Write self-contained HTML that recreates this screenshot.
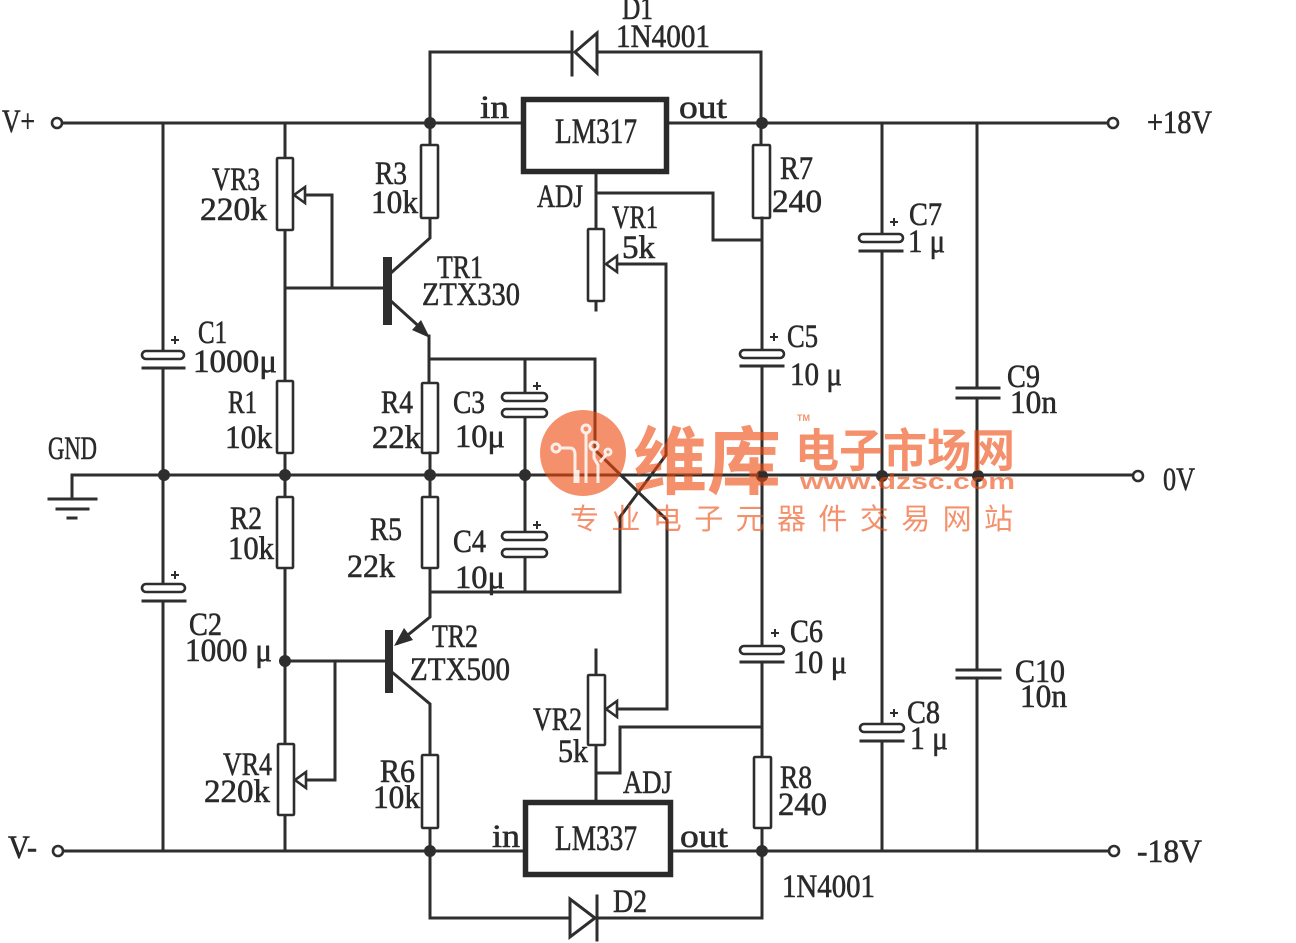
<!DOCTYPE html>
<html><head><meta charset="utf-8"><style>
html,body{margin:0;padding:0;background:#fff;}
svg{display:block;}
text{font-family:"Liberation Serif",serif;font-size:33px;fill:#2a2a2a;stroke:#2a2a2a;stroke-width:0.6px;}
.w{fill:none;stroke:#2e2e2e;stroke-width:3;stroke-linecap:square;stroke-linejoin:miter;}
.r{fill:#fff;stroke:#2e2e2e;stroke-width:2.6;}
.d{fill:#2e2e2e;}
.big{font-size:36px;}
</style></head><body>
<svg width="1296" height="943" viewBox="0 0 1296 943" xmlns="http://www.w3.org/2000/svg">
<rect width="1296" height="943" fill="#fff"/>

<!-- rails -->
<path class="w" d="M62 123H521 M669 123H1109"/>
<path class="w" d="M72 475H1133"/>
<path class="w" d="M62 851H523 M673 851H1109"/>
<circle cx="57" cy="123" r="5" fill="#fff" stroke="#2e2e2e" stroke-width="2.6"/>
<circle cx="1113" cy="123" r="5" fill="#fff" stroke="#2e2e2e" stroke-width="2.6"/>
<circle cx="1138" cy="476" r="5" fill="#fff" stroke="#2e2e2e" stroke-width="2.6"/>
<circle cx="58" cy="851" r="5" fill="#fff" stroke="#2e2e2e" stroke-width="2.6"/>
<circle cx="1114" cy="851" r="5" fill="#fff" stroke="#2e2e2e" stroke-width="2.6"/>

<!-- GND symbol -->
<path class="w" d="M72 475V498 M49 499H96 M57 509H88 M68 518H76"/>

<!-- x=163 C1/C2 column -->
<path class="w" d="M163 123V351 M163 368V584 M163 601V851"/>
<rect class="r" x="142" y="351" width="42" height="8" rx="4"/>
<path class="w" d="M143 368H184"/>
<rect class="r" x="142" y="584" width="43" height="8" rx="4"/>
<path class="w" d="M143 601H185"/>
<path class="w" style="stroke-width:2" d="M172 340H178 M175 337V343 M172 575H178 M175 572V578"/>

<!-- x=285 column -->
<path class="w" d="M285 123V158 M285 230V381 M285 453V497 M285 568V744 M285 815V851"/>
<rect class="r" x="277" y="158" width="16" height="72" rx="1"/>
<rect class="r" x="277" y="381" width="16" height="72" rx="1"/>
<rect class="r" x="277" y="497" width="16" height="71" rx="1"/>
<rect class="r" x="278" y="744" width="16" height="71" rx="1"/>
<!-- VR3 wiper -->
<path class="w" d="M304 195H332V288 M285 288H384"/>
<polygon points="294,195 305,187 305,203" fill="#fff" stroke="#2e2e2e" stroke-width="2.6"/>
<!-- VR4 wiper -->
<path class="w" d="M285 661H386 M335 661V780H305"/>
<polygon points="295,780 306,772 306,788" fill="#fff" stroke="#2e2e2e" stroke-width="2.6"/>

<!-- x=430 column -->
<path class="w" d="M430 52V145 M430 218V238 L392 272"/>
<rect class="r" x="421" y="145" width="17" height="73" rx="1"/>
<rect x="383" y="257" width="9" height="68" fill="#2e2e2e"/>
<path class="w" d="M392 302L424 331 M429 336V383"/>
<polygon points="430,338 412,330 421,320" fill="#2e2e2e"/>
<rect class="r" x="422" y="383" width="16" height="70" rx="1"/>
<path class="w" d="M430 453V497 M430 568V617 L398 643"/>
<rect class="r" x="422" y="497" width="16" height="71" rx="1"/>
<rect x="385" y="630" width="8" height="63" fill="#2e2e2e"/>
<polygon points="394,646 404,628 413,640" fill="#2e2e2e"/>
<path class="w" d="M393 673L430 704V755 M430 828V918H570 M597 918H762V851"/>
<rect class="r" x="422" y="755" width="16" height="73" rx="1"/>

<!-- C3/C4 network -->
<path class="w" d="M430 359H595V450L667 520V709H616 M525 359V393 M525 417V532 M525 557V592 M430 592H620V517L666 455V264H616"/>
<rect class="r" x="502" y="393" width="45" height="8" rx="4"/>
<rect class="r" x="502" y="409" width="45" height="8" rx="4"/>
<rect class="r" x="502" y="532" width="45" height="8" rx="4"/>
<rect class="r" x="502" y="549" width="45" height="8" rx="4"/>
<path class="w" style="stroke-width:2" d="M534 386H540 M537 383V389 M534 525H540 M537 522V528"/>
<polygon points="606,264 617,256 617,272" fill="#fff" stroke="#2e2e2e" stroke-width="2.6"/>
<polygon points="606,709 617,701 617,717" fill="#fff" stroke="#2e2e2e" stroke-width="2.6"/>

<!-- D1 -->
<path class="w" d="M430 52H572 M597 52H761V145"/>
<polygon points="597,33 597,73 575,52" fill="#fff" stroke="#2e2e2e" stroke-width="3"/>
<path class="w" d="M572 32V75"/>

<!-- LM317 -->
<rect x="523.5" y="99.5" width="143" height="72" fill="#fff" stroke="#2a2a2a" stroke-width="5.5"/>
<path class="w" d="M596 174V229 M596 301V310 M596 193H713V240H762"/>
<rect class="r" x="588" y="229" width="16" height="72" rx="1"/>

<!-- x=762 column -->
<rect class="r" x="753" y="145" width="17" height="73" rx="1"/>
<path class="w" d="M762 218V350 M762 366V647 M762 662V757 M762 828V851"/>
<rect class="r" x="740" y="350" width="44" height="8" rx="4"/>
<path class="w" d="M741 366H783"/>
<rect class="r" x="740" y="646" width="44" height="8" rx="4"/>
<path class="w" d="M741 662H783"/>
<path class="w" style="stroke-width:2" d="M771 337H777 M774 334V340 M772 633H778 M775 630V636"/>
<rect class="r" x="754" y="757" width="17" height="71" rx="1"/>

<!-- VR2 / LM337 -->
<path class="w" d="M596 650V675 M596 745V800 M596 773H620V727H762"/>
<rect class="r" x="588" y="675" width="17" height="70" rx="1"/>
<rect x="525.5" y="802.5" width="145" height="72" fill="#fff" stroke="#2a2a2a" stroke-width="5.5"/>

<!-- D2 -->
<polygon points="570,899 570,937 595,918" fill="#fff" stroke="#2e2e2e" stroke-width="3"/>
<path class="w" d="M597 896V940"/>

<!-- right caps -->
<path class="w" d="M882 123V234 M882 251V724 M882 741V851"/>
<rect class="r" x="859" y="234" width="44" height="8" rx="4"/>
<path class="w" d="M860 251H902"/>
<rect class="r" x="860" y="724" width="44" height="8" rx="4"/>
<path class="w" d="M861 741H903"/>
<path class="w" style="stroke-width:2" d="M891 222H897 M894 219V225 M891 713H897 M894 710V716"/>
<path class="w" d="M977 123V388 M977 398V670 M977 678V851"/>
<path class="w" d="M957 388H999 M957 398H999 M957 670H1000 M957 678H1000"/>

<!-- node dots -->
<g class="d">
<circle cx="430" cy="123" r="6"/><circle cx="762" cy="123" r="6"/>
<circle cx="164" cy="475" r="6"/><circle cx="285" cy="475" r="6"/><circle cx="430" cy="475" r="6"/><circle cx="525" cy="475" r="6"/>
<circle cx="762" cy="476" r="6"/><circle cx="882" cy="476" r="6"/><circle cx="978" cy="476" r="6"/>
<circle cx="285" cy="661" r="6"/>
<circle cx="430" cy="851" r="6"/><circle cx="762" cy="851" r="6"/>
</g>

<!-- labels -->
<text x="2" y="132" textLength="33" lengthAdjust="spacingAndGlyphs">V+</text>
<text x="622" y="19" textLength="31" lengthAdjust="spacingAndGlyphs">D1</text>
<text x="616" y="47" textLength="94" lengthAdjust="spacingAndGlyphs">1N4001</text>
<text x="480" y="118" textLength="29" lengthAdjust="spacingAndGlyphs">in</text>
<text x="679" y="118" textLength="48" lengthAdjust="spacingAndGlyphs">out</text>
<text class="big" x="555" y="143" textLength="82" lengthAdjust="spacingAndGlyphs">LM317</text>
<text x="537" y="207" textLength="46" lengthAdjust="spacingAndGlyphs">ADJ</text>
<text x="612" y="228" textLength="46" lengthAdjust="spacingAndGlyphs">VR1</text>
<text x="622" y="258" textLength="33" lengthAdjust="spacingAndGlyphs">5k</text>
<text x="780" y="179" textLength="33" lengthAdjust="spacingAndGlyphs">R7</text>
<text x="772" y="212" textLength="50" lengthAdjust="spacingAndGlyphs">240</text>
<text x="1147" y="133" textLength="65" lengthAdjust="spacingAndGlyphs">+18V</text>
<text x="909" y="225" textLength="33" lengthAdjust="spacingAndGlyphs">C7</text>
<text x="908" y="252" textLength="37" lengthAdjust="spacingAndGlyphs">1 μ</text>
<text x="1007" y="387" textLength="33" lengthAdjust="spacingAndGlyphs">C9</text>
<text x="1010" y="413" textLength="47" lengthAdjust="spacingAndGlyphs">10n</text>
<text x="1163" y="490" textLength="32" lengthAdjust="spacingAndGlyphs">0V</text>
<text x="212" y="190" textLength="48" lengthAdjust="spacingAndGlyphs">VR3</text>
<text x="200" y="220" textLength="67" lengthAdjust="spacingAndGlyphs">220k</text>
<text x="375" y="184" textLength="32" lengthAdjust="spacingAndGlyphs">R3</text>
<text x="371" y="213" textLength="47" lengthAdjust="spacingAndGlyphs">10k</text>
<text x="437" y="278" textLength="46" lengthAdjust="spacingAndGlyphs">TR1</text>
<text x="422" y="305" textLength="98" lengthAdjust="spacingAndGlyphs">ZTX330</text>
<text x="198" y="343" textLength="29" lengthAdjust="spacingAndGlyphs">C1</text>
<text x="193" y="372" textLength="84" lengthAdjust="spacingAndGlyphs">1000μ</text>
<text x="228" y="413" textLength="29" lengthAdjust="spacingAndGlyphs">R1</text>
<text x="225" y="448" textLength="47" lengthAdjust="spacingAndGlyphs">10k</text>
<text x="48" y="459" textLength="49" lengthAdjust="spacingAndGlyphs">GND</text>
<text x="381" y="413" textLength="32" lengthAdjust="spacingAndGlyphs">R4</text>
<text x="372" y="448" textLength="49" lengthAdjust="spacingAndGlyphs">22k</text>
<text x="230" y="529" textLength="32" lengthAdjust="spacingAndGlyphs">R2</text>
<text x="228" y="559" textLength="46" lengthAdjust="spacingAndGlyphs">10k</text>
<text x="370" y="540" textLength="32" lengthAdjust="spacingAndGlyphs">R5</text>
<text x="347" y="577" textLength="48" lengthAdjust="spacingAndGlyphs">22k</text>
<text x="453" y="413" textLength="32" lengthAdjust="spacingAndGlyphs">C3</text>
<text x="455" y="447" textLength="50" lengthAdjust="spacingAndGlyphs">10μ</text>
<text x="453" y="552" textLength="33" lengthAdjust="spacingAndGlyphs">C4</text>
<text x="455" y="588" textLength="50" lengthAdjust="spacingAndGlyphs">10μ</text>
<text x="787" y="347" textLength="31" lengthAdjust="spacingAndGlyphs">C5</text>
<text x="790" y="385" textLength="52" lengthAdjust="spacingAndGlyphs">10 μ</text>
<text x="189" y="635" textLength="33" lengthAdjust="spacingAndGlyphs">C2</text>
<text x="185" y="661" textLength="87" lengthAdjust="spacingAndGlyphs">1000 μ</text>
<text x="223" y="775" textLength="49" lengthAdjust="spacingAndGlyphs">VR4</text>
<text x="204" y="802" textLength="66" lengthAdjust="spacingAndGlyphs">220k</text>
<text x="8" y="858" textLength="29" lengthAdjust="spacingAndGlyphs">V-</text>
<text x="380" y="782" textLength="35" lengthAdjust="spacingAndGlyphs">R6</text>
<text x="373" y="808" textLength="47" lengthAdjust="spacingAndGlyphs">10k</text>
<text x="432" y="647" textLength="46" lengthAdjust="spacingAndGlyphs">TR2</text>
<text x="410" y="680" textLength="100" lengthAdjust="spacingAndGlyphs">ZTX500</text>
<text x="790" y="642" textLength="33" lengthAdjust="spacingAndGlyphs">C6</text>
<text x="793" y="673" textLength="54" lengthAdjust="spacingAndGlyphs">10 μ</text>
<text x="533" y="730" textLength="49" lengthAdjust="spacingAndGlyphs">VR2</text>
<text x="558" y="762" textLength="30" lengthAdjust="spacingAndGlyphs">5k</text>
<text x="623" y="793" textLength="49" lengthAdjust="spacingAndGlyphs">ADJ</text>
<text x="780" y="788" textLength="32" lengthAdjust="spacingAndGlyphs">R8</text>
<text x="778" y="815" textLength="49" lengthAdjust="spacingAndGlyphs">240</text>
<text x="492" y="847" textLength="28" lengthAdjust="spacingAndGlyphs">in</text>
<text class="big" x="555" y="850" textLength="82" lengthAdjust="spacingAndGlyphs">LM337</text>
<text x="680" y="847" textLength="48" lengthAdjust="spacingAndGlyphs">out</text>
<text x="782" y="897" textLength="93" lengthAdjust="spacingAndGlyphs">1N4001</text>
<text x="613" y="912" textLength="34" lengthAdjust="spacingAndGlyphs">D2</text>
<text x="907" y="723" textLength="33" lengthAdjust="spacingAndGlyphs">C8</text>
<text x="910" y="749" textLength="38" lengthAdjust="spacingAndGlyphs">1 μ</text>
<text x="1015" y="682" textLength="50" lengthAdjust="spacingAndGlyphs">C10</text>
<text x="1020" y="707" textLength="47" lengthAdjust="spacingAndGlyphs">10n</text>
<text x="1137" y="862" textLength="65" lengthAdjust="spacingAndGlyphs">-18V</text>

<!-- watermark -->
<g opacity="0.6" fill="rgb(238,72,10)">
<circle cx="583" cy="453" r="43"/>
<text x="633" y="488" textLength="148" lengthAdjust="spacingAndGlyphs" style="font-family:'Noto Sans CJK SC','WenQuanYi Zen Hei',sans-serif;font-size:74px;font-weight:bold;fill:rgb(238,72,10);stroke:none">维库</text>
<text x="795" y="467" textLength="220" lengthAdjust="spacingAndGlyphs" style="font-family:'Noto Sans CJK SC','WenQuanYi Zen Hei',sans-serif;font-size:46px;font-weight:bold;fill:rgb(238,72,10);stroke:none">电子市场网</text>
<text x="797" y="421" style="font-family:'Liberation Sans',sans-serif;font-size:9px;font-weight:bold;fill:rgb(238,72,10);stroke:none">TM</text>
<text x="800" y="489" textLength="215" lengthAdjust="spacingAndGlyphs" style="font-family:'Liberation Sans',sans-serif;font-size:22px;font-weight:bold;fill:rgb(238,72,10);stroke:none">www.dzsc.com</text>
<text x="570" y="529" textLength="443" lengthAdjust="spacing" style="font-family:'Noto Sans CJK SC','WenQuanYi Zen Hei',sans-serif;font-size:29px;fill:rgb(238,72,10);stroke:none">专业电子元器件交易网站</text>
</g>
<g fill="none" stroke="#fff" stroke-width="3" opacity="0.85">
<path d="M560 448H570Q575 448 575 455V483 M586 432V483 M594 450V458L598 465V483 M606 455L600 462 M578 470V483"/>
<circle cx="556" cy="448" r="4"/><circle cx="586" cy="429" r="4"/><circle cx="594" cy="446" r="4"/><circle cx="608" cy="452" r="3"/>
</g>
</svg>
</body></html>
